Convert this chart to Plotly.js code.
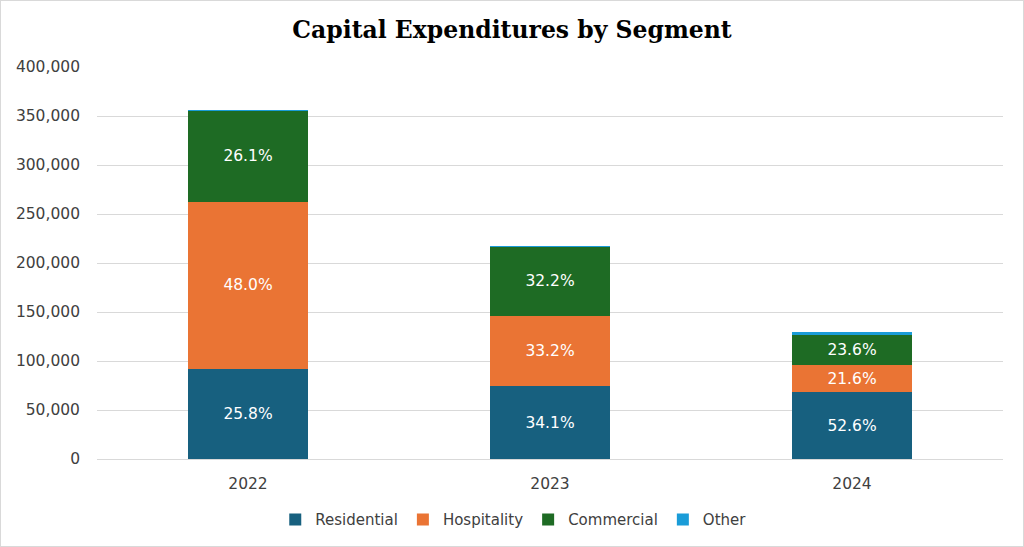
<!DOCTYPE html>
<html>
<head>
<meta charset="utf-8">
<script src="https://cdn.plot.ly/plotly-3.0.1.min.js"></script>
<style>
html,body{margin:0;padding:0;background:#fff;}
#wrap{position:relative;width:1024px;height:547px;}
#chart{width:1024px;height:547px;}
#frame{position:absolute;left:0;top:0;width:1022px;height:545px;border:1px solid #d9d9d9;pointer-events:none;}
</style>
</head>
<body>
<div id="wrap"><div id="chart"></div><div id="frame"></div></div>
<script>
const years = ['2022', '2023', '2024'];
const residential = [91800, 74200, 68000];
const hospitality = [170800, 72200, 27900];
const commercial = [92900, 70000, 30500];
const other = [400, 1100, 2900];
const yTickVals = [0, 50000, 100000, 150000, 200000, 250000, 300000, 350000, 400000];

const totals = years.map((_, i) => residential[i] + hospitality[i] + commercial[i] + other[i]);
const pct = arr => arr.map((v, i) => (v / totals[i] * 100).toFixed(1) + '%');

const font = 'Verdana, "DejaVu Sans", sans-serif';
function tr(name, vals, color, showText) {
  return {
    type: 'bar', name: name, x: years, y: vals,
    marker: {color: color, line: {width: 0}},
    text: showText ? pct(vals) : undefined,
    textposition: showText ? 'inside' : 'none',
    insidetextanchor: 'middle',
    textfont: {color: '#ffffff', size: 15.5, family: font},
    hoverinfo: 'skip'
  };
}
const data = [
  tr('Residential', residential, '#17607f', true),
  tr('Hospitality', hospitality, '#ea7434', true),
  tr('Commercial', commercial, '#1e6b24', true),
  tr('Other', other, '#1a9cd8', false)
];
const layout = {
  width: 1024, height: 547,
  margin: {l: 97, r: 21, t: 67, b: 87},
  paper_bgcolor: '#ffffff', plot_bgcolor: '#ffffff',
  barmode: 'stack', bargap: 0.6,
  title: {text: 'Capital Expenditures by Segment', x: 0.5, xanchor: 'center', y: 0.945, yanchor: 'middle',
          font: {family: '"DejaVu Serif", Georgia, serif', size: 23.5, color: '#000000', weight: 'bold'}},
  font: {family: font, color: '#404040'},
  xaxis: {type: 'category', showgrid: false, zeroline: false, showline: false, ticks: '',
          tickfont: {size: 15.5, color: '#404040', family: font}, ticklabelstandoff: 13},
  yaxis: {range: [0, 400000], tickvals: yTickVals, tickformat: ',d', showgrid: true, gridcolor: '#d9d9d9', gridwidth: 1,
          zeroline: true, zerolinecolor: '#d9d9d9', zerolinewidth: 1, showline: false, ticks: '',
          tickfont: {size: 15.5, color: '#404040', family: font}, ticklabelstandoff: 16},
  legend: {orientation: 'h', x: 0.46, xanchor: 'center', y: -0.11, yanchor: 'top', itemwidth: 30,
           font: {size: 15, color: '#404040', family: font}, traceorder: 'normal'},
  showlegend: true
};
Plotly.newPlot('chart', data, layout, {displayModeBar: false, staticPlot: true});
</script>
</body>
</html>
